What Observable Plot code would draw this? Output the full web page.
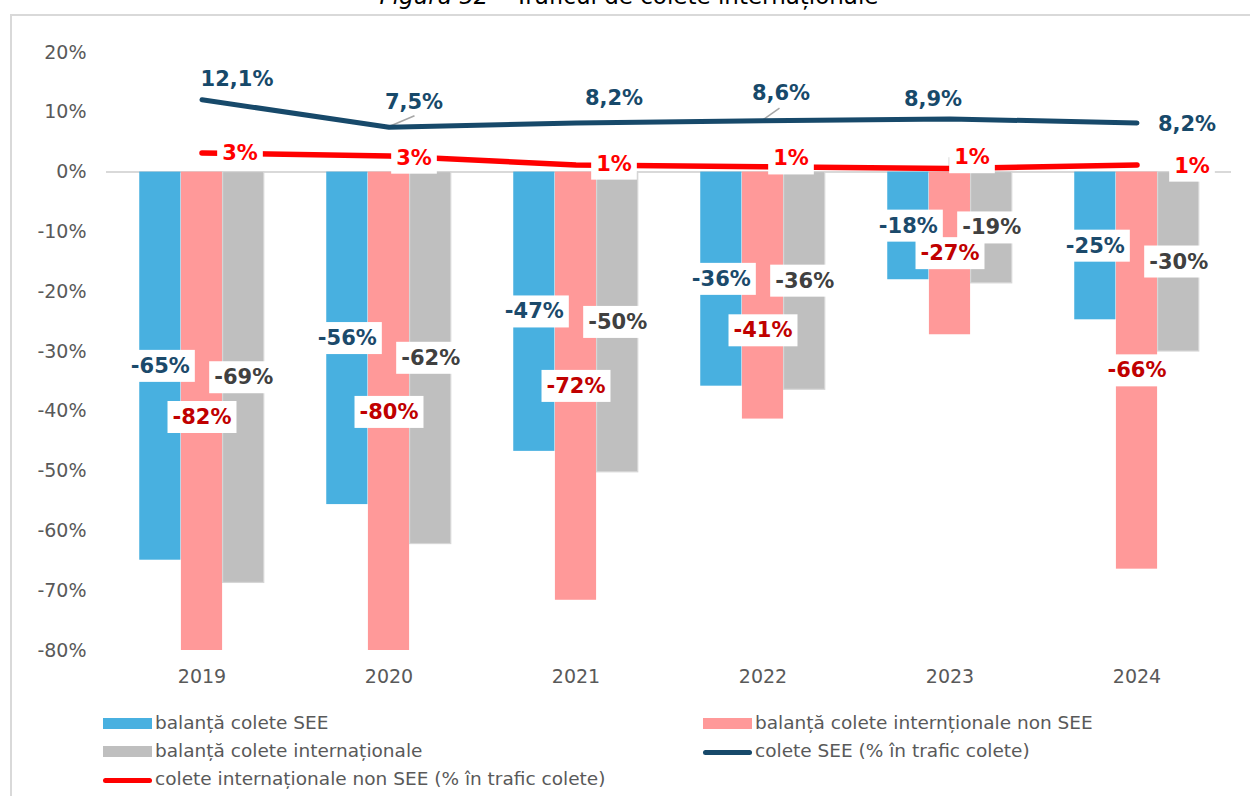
<!DOCTYPE html>
<html><head><meta charset="utf-8">
<script src="https://cdn.jsdelivr.net/npm/d3@7"></script>
<script src="https://cdn.jsdelivr.net/npm/@observablehq/plot@0.6"></script>
<style>
body{margin:0;background:#fff;}
#wrap{position:relative;width:1250px;height:796px;overflow:hidden;background:#fff;font-family:"DejaVu Sans",sans-serif;}
#frame{position:absolute;left:10px;top:14px;width:1400px;height:1000px;border-left:2px solid #d9d9d9;border-top:2px solid #d9d9d9;}
#title{position:absolute;top:-15px;left:0;width:1258px;text-align:center;font-size:23px;line-height:23px;color:#000;white-space:nowrap;z-index:2;}
#chart{position:absolute;left:0;top:0;}
.leg{position:absolute;font-size:18.5px;color:#595959;white-space:nowrap;line-height:20px;}
.sw{position:absolute;}
</style></head>
<body><div id="wrap"><div id="frame"></div><div id="title"><i>Figura 52</i> – Traficul de colete internaționale</div><div id="chart"></div></div>
<script>
const years = ["2019","2020","2021","2022","2023","2024"];
const seeBalance = [-64.9,-55.6,-46.7,-35.8,-18.0,-24.7];
const nonSeeBalance = [-82.0,-80.3,-71.6,-41.3,-27.2,-66.4];
const intlBalance = [-68.7,-62.2,-50.2,-36.4,-18.6,-30.0];
const seeShare = [12.1,7.5,8.2,8.6,8.9,8.2];
const nonSeeShare = [3.2,2.7,1.2,0.9,0.6,1.2];
const yTicks = [20,10,0,-10,-20,-30,-40,-50,-60,-70,-80];
const seriesNames = ["balanță colete SEE","balanță colete internționale non SEE","balanță colete internaționale","colete SEE (% în trafic colete)","colete internaționale non SEE (% în trafic colete)"];

const colors = {blue:"#48b0e0", pink:"#ff9999", gray:"#bfbfbf", navy:"#17496a", red:"#ff0000"};
const labelColors = {blue:"#1b4a6b", pink:"#c00000", gray:"#404040"};

// layout
const W = 1250, H = 700, mL = 106, mR = 19, mT = 52, mB = 50;
const bw = (W - mL - mR) / years.length;
const barW = 41.67, groupW = 3 * barW, side = (bw - groupW) / 2;

const rows = years.map((y, i) => ({i, year: y}));
const pct = v => `${Math.round(v)}%`;
const pctComma = v => `${v.toFixed(1).replace(".", ",")}%`;

const barMark = (vals, k, color, stroke) => Plot.barY(rows, {
  x: "year", y: d => vals[d.i], fill: color, stroke: stroke || null, strokeWidth: stroke ? 1.2 : 0,
  insetLeft: side + k * barW, insetRight: bw - side - (k + 1) * barW, clip: true
});
// label offsets (pixels) – only the 2022 non-SEE label is moved down
const barLabelDy = [[0,0,0,0,0,0],[0,0,0,35,0,0],[0,0,0,0,0,0]];
const barLabels = (vals, k, color) => rows.map(r => Plot.text([r], {
  x: "year", y: d => Math.max(vals[d.i], -82) / 2, text: d => pct(vals[d.i]),
  dx: (k - 1) * barW, dy: barLabelDy[k][r.i], fill: color, fontWeight: "bold", fontSize: 21, fontFamily: "DejaVu Sans",
  ariaDescription: "boxed"
}));

const navyOff = [[35,-20],[25,-25],[38,-25],[18,-27],[-17,-20],[50,1]];
const redOff = [[38,0],[25,2],[38,-1],[28,-8],[22,-11],[55,1]];

const navyLabels = rows.map(r => Plot.text([r], {
  x: "year", y: d => seeShare[d.i], text: d => pctComma(seeShare[d.i]),
  dx: navyOff[r.i][0], dy: navyOff[r.i][1], fill: colors.navy, fontWeight: "bold", fontSize: 21, fontFamily: "DejaVu Sans"
}));
const redLabels = rows.map(r => Plot.text([r], {
  x: "year", y: d => nonSeeShare[d.i], text: d => pct(nonSeeShare[d.i]),
  dx: redOff[r.i][0], dy: redOff[r.i][1], fill: colors.red, fontWeight: "bold", fontSize: 21, fontFamily: "DejaVu Sans",
  ariaDescription: "boxed"
}));

// leader lines: [series values, year index, pixel path relative to the point]
const leaders = [
  {vals: seeShare, i: 1, path: [[0,0],[26,-11]]},
  {vals: seeShare, i: 3, path: [[0,0],[17,-12]]},
  {vals: nonSeeShare, i: 4, path: [[0,0],[0,-10],[13,-10]]}
];
const leaderMark = (index, scales) => {
  const g = document.createElementNS("http://www.w3.org/2000/svg", "g");
  if (!scales || !scales.x || !scales.y) return g;
  const half = scales.x.bandwidth ? scales.x.bandwidth() / 2 : 0;
  leaders.forEach(L => {
    const px = scales.x(years[L.i]) + half, py = scales.y(L.vals[L.i]);
    const p = document.createElementNS("http://www.w3.org/2000/svg", "path");
    p.setAttribute("d", "M" + L.path.map(([dx, dy]) => `${px + dx},${py + dy}`).join("L"));
    p.setAttribute("fill", "none");
    p.setAttribute("stroke", "#a6a6a6");
    p.setAttribute("stroke-width", 1.5);
    g.appendChild(p);
  });
  return g;
};

const chart = Plot.plot({
  width: W, height: H, marginLeft: mL, marginRight: mR, marginTop: mT, marginBottom: mB,
  style: {fontFamily: "DejaVu Sans", fontSize: "19px", color: "#595959", background: "transparent"},
  x: {type: "band", domain: years, padding: 0, tickSize: 0, tickPadding: 19, label: null},
  y: {domain: [-80, 20], ticks: yTicks, tickFormat: d => `${d}%`, tickSize: 0, tickPadding: 20, label: null},
  marks: [
    Plot.ruleY([0], {stroke: "#d9d9d9", strokeWidth: 2}),
    barMark(seeBalance, 0, colors.blue),
    barMark(nonSeeBalance, 1, colors.pink),
    barMark(intlBalance, 2, colors.gray, "#d6d6d6"),
    leaderMark,
    Plot.lineY(rows, {x: "year", y: d => seeShare[d.i], stroke: colors.navy, strokeWidth: 5, strokeLinecap: "round", strokeLinejoin: "round"}),
    Plot.lineY(rows, {x: "year", y: d => nonSeeShare[d.i], stroke: colors.red, strokeWidth: 5.5, strokeLinecap: "round", strokeLinejoin: "round"}),
    ...barLabels(seeBalance, 0, labelColors.blue),
    ...barLabels(intlBalance, 2, labelColors.gray),
    ...barLabels(nonSeeBalance, 1, labelColors.pink),
    ...redLabels,
    ...navyLabels
  ]
});
document.getElementById("chart").appendChild(chart);

// white boxes behind the boxed labels (same transform as the text)
chart.querySelectorAll('g[aria-description="boxed"] text').forEach(t => {
  const b = t.getBBox();
  const r = document.createElementNS("http://www.w3.org/2000/svg", "rect");
  r.setAttribute("x", b.x - 5); r.setAttribute("y", b.y - 4);
  r.setAttribute("width", b.width + 10); r.setAttribute("height", b.height + 8);
  r.setAttribute("fill", "#fff");
  const tr = t.getAttribute("transform");
  if (tr) r.setAttribute("transform", tr);
  t.parentNode.insertBefore(r, t);
});

// legend
const wrap = document.getElementById("wrap");
const legItems = [
  {name: seriesNames[0], color: colors.blue, kind: "bar", x: 103, y: 724},
  {name: seriesNames[1], color: colors.pink, kind: "bar", x: 703, y: 724},
  {name: seriesNames[2], color: colors.gray, kind: "bar", x: 103, y: 752},
  {name: seriesNames[3], color: colors.navy, kind: "line", x: 703, y: 752},
  {name: seriesNames[4], color: colors.red, kind: "line", x: 103, y: 780}
];
legItems.forEach(it => {
  const s = document.createElement("div");
  s.className = "sw";
  s.style.left = it.x + "px";
  s.style.width = "49px";
  s.style.background = it.color;
  if (it.kind === "bar") { s.style.top = (it.y - 6) + "px"; s.style.height = "11px"; }
  else { s.style.top = (it.y - 2) + "px"; s.style.height = "5px"; s.style.borderRadius = "3px"; }
  wrap.appendChild(s);
  const t = document.createElement("div");
  t.className = "leg";
  t.style.left = (it.x + 52) + "px";
  t.style.top = (it.y - 11) + "px";
  t.textContent = it.name;
  wrap.appendChild(t);
});
</script></body></html>
